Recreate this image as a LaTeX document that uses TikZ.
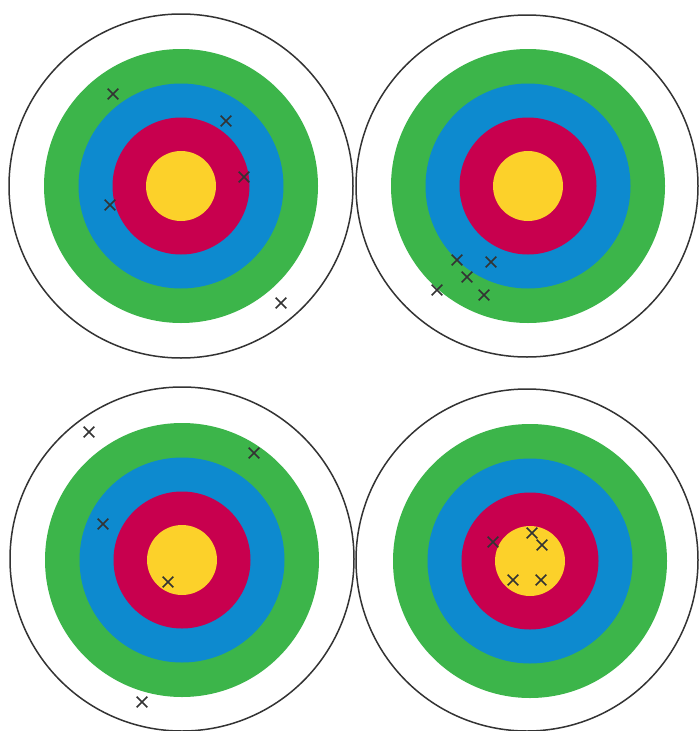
\documentclass[tikz,border=0pt]{standalone}
\usetikzlibrary{shapes.misc}
\definecolor{ringgreen}{HTML}{3CB54A}
\definecolor{ringblue}{HTML}{0D8ACF}
\definecolor{ringred}{HTML}{C8004E}
\definecolor{ringgold}{HTML}{FCD12A}
\tikzset{
  rim/.style={draw=black!80, fill=white, line width=1.5pt},
  hit/.style={cross out, draw=black!80, line width=1.6pt, minimum size=9pt, inner sep=0pt}
}
\begin{document}
\begin{tikzpicture}[x=1pt,y=-1pt]
\useasboundingbox (0,0) rectangle (699,731);
\draw[rim] (181,186) circle (172);
\fill[ringgreen] (181,186) circle (137);
\fill[ringblue] (181,186) circle (102.5);
\fill[ringred] (181,186) circle (68.5);
\fill[ringgold] (181,186) circle (35);
\draw[rim] (527,186) circle (171);
\fill[ringgreen] (528,186) circle (137);
\fill[ringblue] (528,186) circle (102.5);
\fill[ringred] (528,186) circle (68.5);
\fill[ringgold] (528,186) circle (35);
\draw[rim] (182,559) circle (172);
\fill[ringgreen] (182,560) circle (137);
\fill[ringblue] (182,560) circle (102.5);
\fill[ringred] (182,560) circle (68.5);
\fill[ringgold] (182,560) circle (35);
\draw[rim] (527,560) circle (171);
\fill[ringgreen] (530,561) circle (137);
\fill[ringblue] (530,561) circle (102.5);
\fill[ringred] (530,561) circle (68.5);
\fill[ringgold] (530,561) circle (35);
\node[hit] (a1) at (113,94) {};
\node[hit] (a2) at (226,121) {};
\node[hit] (a3) at (244,177) {};
\node[hit] (a4) at (110,205) {};
\node[hit] (a5) at (281,303) {};
\node[hit] (b1) at (457,260) {};
\node[hit] (b2) at (491,262) {};
\node[hit] (b3) at (467,277) {};
\node[hit] (b4) at (437,290) {};
\node[hit] (b5) at (484,295) {};
\node[hit] (c1) at (89,432) {};
\node[hit] (c2) at (254,453) {};
\node[hit] (c3) at (103,524) {};
\node[hit] (c4) at (168,582) {};
\node[hit] (c5) at (142,702) {};
\node[hit] (d1) at (493,542) {};
\node[hit] (d2) at (532,533) {};
\node[hit] (d3) at (542,545) {};
\node[hit] (d4) at (513,580) {};
\node[hit] (d5) at (541,580) {};
\end{tikzpicture}
\end{document}
